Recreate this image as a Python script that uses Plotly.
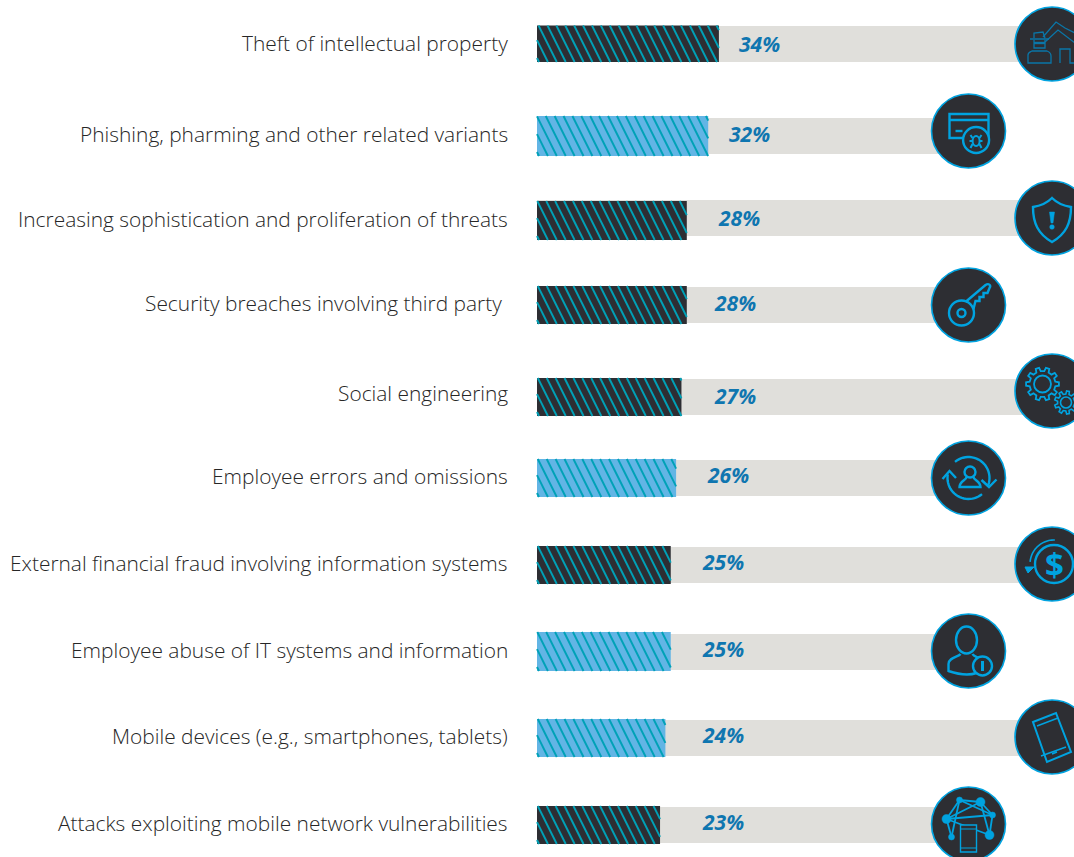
import math
import plotly.graph_objects as go

categories = [
    "Theft of intellectual property",
    "Phishing, pharming and other related variants",
    "Increasing sophistication and proliferation of threats",
    "Security breaches involving third party",
    "Social engineering",
    "Employee errors and omissions",
    "External financial fraud involving information systems",
    "Employee abuse of IT systems and information",
    "Mobile devices (e.g., smartphones, tablets)",
    "Attacks exploiting mobile network vulnerabilities",
]
values = [34, 32, 28, 28, 27, 26, 25, 25, 24, 23]

# layout (pixel) tables
W, H = 1074, 857
X0, PX_PER = 537.0, 5.35
bar_top = [25.5, 116, 201, 286, 378, 459, 546, 632, 719, 806]
bar_bot = [62, 156, 240, 324, 416, 497, 584, 671, 757, 844]
track_top = [26, 118, 200, 287, 379, 460, 547, 634, 720, 807]
track_end = [96.3, 80.7, 96.3, 80.7, 96.3, 80.7, 96.3, 80.7, 96.3, 80.7]
is_dark = [True, False, True, True, True, False, True, False, False, True]
label_right = [510, 510, 510, 504, 510, 510, 510, 510, 510, 510]
label_y = [43, 134, 219, 303, 393, 476, 563, 650, 736, 823]
pct_x = [759.5, 749.5, 738.5, 735, 735, 728, 722.5, 722.5, 722.5, 722.5]
pct_y = [43.5, 133.5, 217.5, 302.5, 395.5, 474.5, 561.5, 648.5, 734.5, 821.5]
circle_c = [(1052, 44), (968.5, 131), (1052, 218), (968.5, 305), (1052, 391),
            (968.5, 478), (1052, 564), (968.5, 651), (1052, 737), (968.5, 824)]

DARK = "#2D2E33"
BLUE = "#62B5E5"
STRIPE = "#00A1B7"
GREY = "#E0DFDB"
ICON = "#00A3E0"
PCT = "#0F76B0"
TXT = "#262626"


def vx(px):
    return (px - X0) / PX_PER


fig = go.Figure()
fig.add_trace(go.Bar(
    orientation="h", base=0, x=track_end,
    y=[t + 18 for t in track_top], width=[36] * 10,
    marker=dict(color=GREY, line=dict(width=0)), hoverinfo="skip",
))
fig.add_trace(go.Bar(
    orientation="h", base=0, x=values,
    y=[(a + b) / 2 for a, b in zip(bar_top, bar_bot)],
    width=[b - a for a, b in zip(bar_top, bar_bot)],
    marker=dict(color=[DARK if d else BLUE for d in is_dark], line=dict(width=0)),
    hoverinfo="skip",
))

# diagonal hatch, clipped to each value's bar end
sx, sy = [], []
PERIOD, SLOPE = 8.9, 0.5
for v, a, b in zip(values, bar_top, bar_bot):
    end = X0 + v * PX_PER
    h = b - a
    x = X0 - SLOPE * h + 2.0
    while x < end:
        x1, x2 = x, x + SLOPE * h
        y1, y2 = a, b
        if x1 < X0:
            y1 = a + (X0 - x1) / SLOPE
            x1 = X0
        if x2 > end:
            y2 = a + (end - x) / SLOPE
            x2 = end
        if x2 > x1:
            sx += [vx(x1), vx(x2), None]
            sy += [y1, y2, None]
        x += PERIOD
fig.add_trace(go.Scatter(x=sx, y=sy, mode="lines", line=dict(color=STRIPE, width=1.9),
                         hoverinfo="skip", connectgaps=False))

shapes = []
annos = []


def path(cx, cy, d, color=ICON, lw=2.4, fill=None):
    out, i = [], 0
    for tok in d.split():
        if tok.isalpha():
            out.append(tok)
        else:
            val = float(tok)
            if i % 2 == 0:
                out.append(f"{(cx + val) / W:.5f}")
            else:
                out.append(f"{cy + val:.2f}")
            i += 1
    shapes.append(dict(type="path", xref="paper", yref="y", path=" ".join(out),
                       line=dict(color=color, width=lw),
                       fillcolor=fill or "rgba(0,0,0,0)", layer="above"))


def ell(cx, cy, rx, ry=None, color=ICON, lw=2.4, fill=None):
    ry = rx if ry is None else ry
    shapes.append(dict(type="circle", xref="paper", yref="y",
                       x0=(cx - rx) / W, x1=(cx + rx) / W, y0=cy - ry, y1=cy + ry,
                       line=dict(color=color, width=lw),
                       fillcolor=fill or "rgba(0,0,0,0)", layer="above"))


def arc(cx, cy, ox, oy, r, a0, a1, n=24, **kw):
    pts = []
    for k in range(n + 1):
        t = math.radians(a0 + (a1 - a0) * k / n)
        pts.append(f"{ox + r * math.cos(t):.2f} {oy + r * math.sin(t):.2f}")
    path(cx, cy, "M " + " L ".join(pts), **kw)


def gear(cx, cy, ox, oy, r0, r1, n, **kw):
    pts = []
    for k in range(n):
        base = 2 * math.pi * k / n
        step = 2 * math.pi / n
        for f, r in ((-0.28, r0), (-0.17, r1), (0.17, r1), (0.28, r0)):
            t = base + f * step
            pts.append(f"{ox + r * math.cos(t):.2f} {oy + r * math.sin(t):.2f}")
    path(cx, cy, "M " + " L ".join(pts) + " Z", **kw)


for (cx, cy) in circle_c:
    ell(cx, cy, 37, color=ICON, lw=1.6, fill=DARK)

# 1 thief and house
c = circle_c[0]
TH = "#0A76A8"
path(*c, "M -9 -7 L 4 -22 L 13 -16 L 23 -11", color=TH, lw=1.3)
path(*c, "M -7 -2 L 6 -14 L 23 -1", color=TH, lw=1.3)
path(*c, "M 8 19 L 8 5 L 18 5 L 18 19 L 24 19", color=TH, lw=1.3)
path(*c, "M -22 -5 L -3 -5 M -18 -6 L -18 -11 L -9 -12 L -7 -6", color=TH, lw=1.3)
path(*c, "M -18 -4 L -18 4 L -7 4 L -7 -4", color=TH, lw=1.3)
path(*c, "M -18 -1 L -7 -1", color=TH, lw=2.4)
path(*c, "M -24 19 L -24 11 C -24 8 -22 8 -20 7 L -5 7 C -2 8 -1 9 -1 12 L -1 19 Z", color=TH, lw=1.3)

# 2 card and bug
c = circle_c[1]
path(*c, "M -19 -17 L 20 -17 L 20 7 L -19 7 Z")
path(*c, "M -19 -11 L 20 -11")
path(*c, "M -13 0 L -6 0")
ell(c[0] + 7.6, c[1] + 9, 13, fill=DARK)
ell(c[0] + 7.6, c[1] + 10, 3.5, 5, lw=2)
path(*c, "M 2 4 L 4 7 M 13 4 L 11 7 M 1 10 L 4 10 M 14 10 L 11 10 M 2 17 L 4 13 M 13 17 L 11 13", lw=2)

# 3 shield
c = circle_c[2]
path(*c, "M 0 -20 C -5 -15 -12 -12 -19 -11 C -19 5 -14 16 0 24 C 14 16 19 5 19 -11 C 12 -12 5 -15 0 -20 Z")
path(*c, "M -2.5 -6 L 2.5 -6 L 1 5 L -1 5 Z", lw=0.5, fill=ICON)
ell(c[0], c[1] + 9, 2.3, lw=0.5, fill=ICON)

# 4 key
c = circle_c[3]
ell(c[0] - 7, c[1] + 8, 12.5)
ell(c[0] - 7, c[1] + 8, 4)
path(*c, "M -3 -3 L 17 -20 C 20 -22 23 -20 21 -17 L 19 -12 L 15 -12 L 15 -8 L 11 -8 L 11 -4 L 7 -4 L 5 4")

# 5 gears
c = circle_c[4]
gear(*c, -9.5, -7, 13, 16.5, 10, lw=1.8)
ell(c[0] - 9.5, c[1] - 7, 8.5, lw=1.8)
gear(*c, 14, 11.5, 8.5, 11.5, 9, lw=1.6)
ell(c[0] + 14, c[1] + 11.5, 5.5, lw=1.6)

# 6 person and arrows
c = circle_c[5]
ell(c[0] + 1.5, c[1] - 6, 5.5)
path(*c, "M -2 -1 C -2 2 -9 3 -9 9 L 12 9 C 12 3 5 2 5 -1")
arc(*c, 0, 0, 21, -130, 20)
path(*c, "M 13 2 L 20.5 9 L 28 1.5")
arc(*c, 0, 0, 21, 50, 190)
path(*c, "M -26 1 L -19 -7 L -12.5 0")

# 7 dollar
c = circle_c[6]
ell(c[0] + 2, c[1], 19)
arc(*c, 2, 0, 24, -88, -175, lw=1.6)
path(*c, "M -27 3 L -18 3 L -24 9 Z", lw=1, fill=ICON)

# 8 person and info badge
c = circle_c[7]
ell(c[0] - 2, c[1] - 11, 10.5, 13.5)
path(*c, "M -8 3 C -10 6 -20 6 -20 13 L -20 20 C -8 24 2 24 8 22 M 4 3 C 5 5 8 6 10 7")
ell(c[0] + 14, c[1] + 15, 9.5, fill=DARK)
path(*c, "M 14 10 L 14 20", lw=3)

# 9 phone
c = circle_c[8]
path(*c, "M -19 -15 L 4 -24 L 19 15 L -5 25 Z", lw=2)
path(*c, "M -15 -11 L 6 -19 M -11 19 L 14 10 M 0 17 L 5 15", lw=1.5)

# 10 network and phone
c = circle_c[9]
nodes = [(-9, -24, 3), (12, -22, 4.5), (24, -9, 3), (-22, -5, 4.5), (-17, 13, 3), (21, 11, 4.5)]
for i, j in [(0, 1), (1, 2), (2, 5), (0, 3), (3, 4), (0, 4), (3, 2), (0, 2), (1, 3), (1, 5), (3, 5)]:
    path(*c, f"M {nodes[i][0]} {nodes[i][1]} L {nodes[j][0]} {nodes[j][1]}", lw=1.8)
for nx, ny, nr in nodes:
    ell(c[0] + nx, c[1] + ny, nr, lw=0.5, fill=ICON)
path(*c, "M -8 1 L 8 1 L 8 28 L -8 28 Z", lw=1.4, fill=DARK)
path(*c, "M -8 5 L 8 5 M -8 24 L 8 24", lw=1.2)

for name, rx, ly in zip(categories, label_right, label_y):
    annos.append(dict(text=name, xref="paper", yref="y", x=rx / W, y=ly,
                      xanchor="right", yanchor="middle", showarrow=False,
                      font=dict(family="Open Sans", size=20.9, color=TXT, weight=300)))
for v, px, py in zip(values, pct_x, pct_y):
    annos.append(dict(text=f"{v}%", xref="paper", yref="y", x=px / W, y=py,
                      xanchor="center", yanchor="middle", showarrow=False,
                      font=dict(family="Open Sans", size=21, color=PCT, weight=700, style="italic")))
annos.append(dict(text="<b>$</b>", xref="paper", yref="y", x=(circle_c[6][0] + 2) / W, y=circle_c[6][1],
                  xanchor="center", yanchor="middle", showarrow=False,
                  font=dict(family="Open Sans", size=33, color=ICON)))

fig.update_layout(
    width=W, height=H, autosize=False,
    margin=dict(l=0, r=0, t=0, b=0, pad=0),
    paper_bgcolor="white", plot_bgcolor="white",
    barmode="overlay", showlegend=False,
    xaxis=dict(range=[vx(0), vx(W)], visible=False, fixedrange=True),
    yaxis=dict(range=[H, 0], visible=False, fixedrange=True),
    shapes=shapes, annotations=annos,
)
fig.write_html("out.html", config=dict(displayModeBar=False),
               default_width=f"{W}px", default_height=f"{H}px",
               post_script="document.body.style.margin='0';document.body.style.overflow='hidden';")
